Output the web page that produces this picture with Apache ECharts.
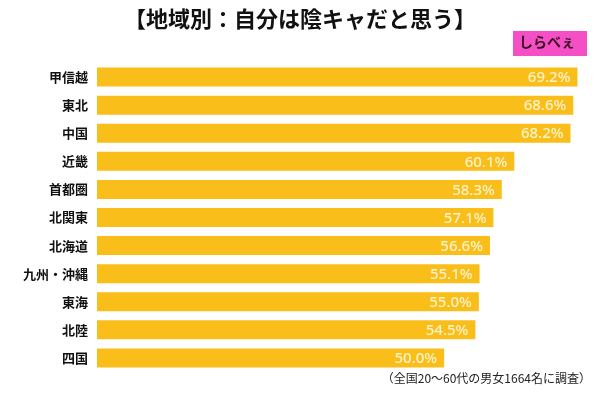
<!DOCTYPE html>
<html>
<head>
<meta charset="utf-8">
<script src="https://cdn.jsdelivr.net/npm/echarts@6/dist/echarts.min.js"></script>
<style>
    html, body { margin: 0; padding: 0; background: #fff; }
    #chart { width: 600px; height: 396px; }
</style>
</head>
<body>
<div id="chart"></div>
<script>
var regions = ['甲信越', '東北', '中国', '近畿', '首都圏', '北関東', '北海道', '九州・沖縄', '東海', '北陸', '四国'];
var values = [69.2, 68.6, 68.2, 60.1, 58.3, 57.1, 56.6, 55.1, 55.0, 54.5, 50.0];

var font = '"Noto Sans CJK JP", sans-serif';
var myChart = echarts.init(document.getElementById('chart'));
var option = {
    backgroundColor: '#fff',
    animation: false,
    title: {
        text: '【地域別：自分は陰キャだと思う】',
        left: 'center',
        top: 3,
        textStyle: {
            fontFamily: font,
            fontSize: 22,
            fontWeight: 'bold',
            color: '#111'
        }
    },
    grid: {
        left: 97,
        width: 486,
        top: 63,
        height: 309
    },
    xAxis: {
        type: 'value',
        min: 0,
        max: 70,
        show: false
    },
    yAxis: {
        type: 'category',
        inverse: true,
        data: regions,
        axisLine: { show: false },
        axisTick: { show: false },
        axisLabel: {
            margin: 9,
            fontFamily: font,
            fontSize: 13,
            fontWeight: 'bold',
            color: '#111'
        }
    },
    series: [{
        type: 'bar',
        data: values,
        barWidth: 19,
        itemStyle: { color: '#F9BE1A' },
        label: {
            show: true,
            position: 'insideRight',
            offset: [-2, 1],
            formatter: function(p) {
                return p.value.toFixed(1) + '%';
            },
            fontFamily: '"Noto Sans", sans-serif',
            fontSize: 15,
            fontWeight: 500,
            color: '#FFF3CC'
        }
    }],
    graphic: [{
        type: 'rect',
        left: 513,
        top: 31,
        shape: { width: 74, height: 25 },
        style: { fill: '#F54FC6' }
    }, {
        type: 'text',
        left: 519,
        top: 35,
        style: {
            text: 'しらべぇ',
            font: 'bold 14px "Noto Sans CJK JP", sans-serif',
            fill: '#3a1020'
        }
    }, {
        type: 'text',
        right: 9,
        top: 372,
        style: {
            text: '（全国20～60代の男女1664名に調査）',
            font: '12px "Noto Sans CJK JP", sans-serif',
            fill: '#222'
        }
    }]
};
myChart.setOption(option);
</script>
</body>
</html>
